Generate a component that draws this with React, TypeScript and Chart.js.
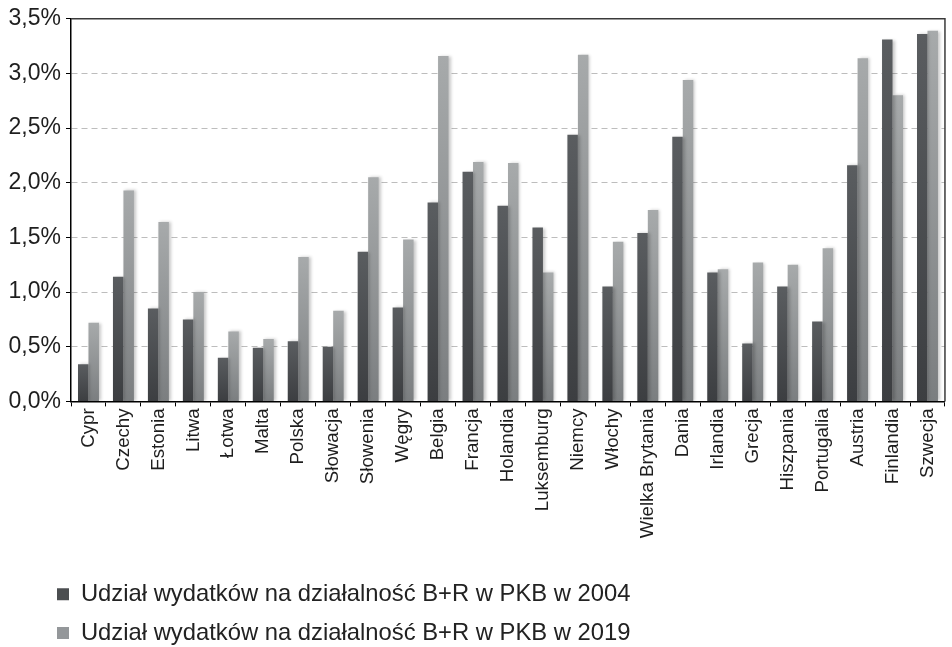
import React, { useEffect, useRef } from "react";
import { Chart, registerables } from "chart.js";

Chart.register(...registerables);

const categories = [
  "Cypr", "Czechy", "Estonia", "Litwa", "Łotwa", "Malta", "Polska", "Słowacja",
  "Słowenia", "Węgry", "Belgia", "Francja", "Holandia", "Luksemburg", "Niemcy",
  "Włochy", "Wielka Brytania", "Dania", "Irlandia", "Grecja", "Hiszpania",
  "Portugalia", "Austria", "Finlandia", "Szwecja",
];

const values2004 = [
  0.34, 1.14, 0.85, 0.75, 0.40, 0.49, 0.55, 0.50, 1.37, 0.86, 1.82, 2.10, 1.79,
  1.59, 2.44, 1.05, 1.54, 2.42, 1.18, 0.53, 1.05, 0.73, 2.16, 3.31, 3.36,
];

const values2019 = [
  0.72, 1.93, 1.64, 1.00, 0.64, 0.57, 1.32, 0.83, 2.05, 1.48, 3.16, 2.19, 2.18,
  1.18, 3.17, 1.46, 1.75, 2.94, 1.21, 1.27, 1.25, 1.40, 3.14, 2.80, 3.39,
];

const seriesLabels = [
  "Udział wydatków na działalność B+R w PKB w 2004",
  "Udział wydatków na działalność B+R w PKB w 2019",
];

const yTickLabels = ["0,0%", "0,5%", "1,0%", "1,5%", "2,0%", "2,5%", "3,0%", "3,5%"];

const FONT = "'Liberation Sans', Arial, sans-serif";

function gradientFill(top: string, bottom: string, fallback: string) {
  return (ctx: any) => {
    const chart = ctx.chart;
    const area = chart.chartArea;
    const yScale = chart.scales?.y;
    if (!area || !yScale || ctx.type !== "data" || typeof ctx.raw !== "number") return fallback;
    const y = yScale.getPixelForValue(ctx.raw);
    const b = yScale.getPixelForValue(0);
    if (!isFinite(y) || !isFinite(b) || Math.abs(b - y) < 1) return fallback;
    const g = chart.ctx.createLinearGradient(0, y, 0, b);
    g.addColorStop(0, top);
    g.addColorStop(1, bottom);
    return g;
  };
}

const legendShift = {
  id: "legendShift",
  afterLayout(chart: any) {
    const l = chart.legend;
    if (!l) return;
    l.left += 42;
    l.right += 42;
    l.top += 8;
    l.bottom += 8;
  },
};

const barShadow = {
  id: "barShadow",
  beforeDatasetDraw(chart: any) {
    const c = chart.ctx;
    c.save();
    c.shadowColor = "rgba(0,0,0,0.22)";
    c.shadowBlur = 3;
    c.shadowOffsetX = 2;
    c.shadowOffsetY = 0;
  },
  afterDatasetDraw(chart: any) {
    chart.ctx.restore();
  },
};

const frame = {
  id: "frame",
  afterDraw(chart: any) {
    const { ctx, chartArea } = chart;
    ctx.save();
    ctx.strokeStyle = "#3a3a3a";
    ctx.lineWidth = 1.5;
    ctx.beginPath();
    ctx.moveTo(chartArea.left, chartArea.top);
    ctx.lineTo(chartArea.right, chartArea.top);
    ctx.lineTo(chartArea.right, chartArea.bottom);
    ctx.stroke();
    ctx.restore();
  },
};

export default function App() {
  const ref = useRef<HTMLCanvasElement | null>(null);

  useEffect(() => {
    if (!ref.current) return;
    const legendColors = ["#4b4e50", "#94979a"];
    const chart = new Chart(ref.current, {
      type: "bar",
      data: {
        labels: categories,
        datasets: [
          {
            label: seriesLabels[0],
            data: values2004,
            backgroundColor: gradientFill("#5a5d60", "#3c3e41", "#4b4e50"),
            borderWidth: 0,
            categoryPercentage: 0.6,
            barPercentage: 1.0,
          },
          {
            label: seriesLabels[1],
            data: values2019,
            backgroundColor: gradientFill("#a7aaab", "#7b7e80", "#94979a"),
            borderWidth: 0,
            categoryPercentage: 0.6,
            barPercentage: 1.0,
          },
        ],
      },
      options: {
        responsive: false,
        animation: false,
        layout: { padding: { top: 17, right: 4, left: 0, bottom: 0 } },
        plugins: {
          tooltip: { enabled: false },
          legend: {
            position: "bottom",
            align: "start",
            labels: {
              boxWidth: 12,
              boxHeight: 12,
              padding: 15,
              color: "#222222",
              font: { family: FONT, size: 23.8 },
              generateLabels: (ch: any) =>
                ch.data.datasets.map((ds: any, i: number) => ({
                  text: ds.label,
                  fillStyle: legendColors[i],
                  strokeStyle: legendColors[i],
                  lineWidth: 0,
                  hidden: false,
                  datasetIndex: i,
                  fontColor: "#222222",
                })),
            },
          },
        },
        scales: {
          x: {
            afterFit: (scale: any) => {
              scale.height = 158;
            },
            grid: {
              drawOnChartArea: false,
              drawTicks: true,
              tickLength: 5,
              tickColor: "#000000",
              offset: true,
            },
            border: { color: "#000000", width: 1.5 },
            ticks: {
              autoSkip: false,
              maxRotation: 90,
              minRotation: 90,
              padding: 2,
              color: "#1e1e1e",
              font: { family: FONT, size: 18.7 },
            },
          },
          y: {
            min: 0,
            max: 3.5,
            afterFit: (scale: any) => {
              scale.width = 71;
            },
            grid: {
              color: "#bdbdbd",
              tickColor: "#000000",
              tickLength: 5,
              lineWidth: 1,
            },
            border: { color: "#000000", width: 1.5, dash: [6, 4] },
            ticks: {
              stepSize: 0.5,
              padding: 5,
              color: "#1e1e1e",
              font: { family: FONT, size: 23 },
              callback: (_v: any, i: number) => yTickLabels[i],
            },
          },
        },
      },
      plugins: [legendShift, barShadow, frame],
    });
    return () => chart.destroy();
  }, []);

  return (
    <div style={{ position: "absolute", left: 0, top: 0, width: 952, height: 647, background: "#ffffff" }}>
      <canvas ref={ref} width={952} height={647} style={{ display: "block", width: 952, height: 647 }} />
    </div>
  );
}
